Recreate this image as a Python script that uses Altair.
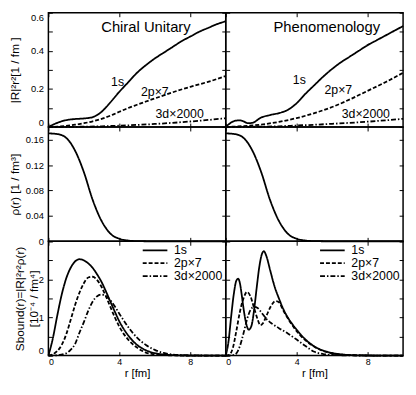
import altair as alt
import pandas as pd

FONT = "Liberation Sans"
W, H = 180, 116
XDOM = [0, 10]
SERIES = ["1s", "2p×7", "3d×2000"]
DASHES = [[1, 0], [4, 2], [5, 2, 1.5, 2]]

# ---------------- Row 1: |R|^2 r^2 [1/fm] ----------------
cu_wf_r = [0, 0.5, 1, 1.5, 2, 2.5, 3, 3.5, 4, 4.5, 5, 5.5, 6, 6.5, 7, 7.5, 8, 8.5, 9, 9.5, 10]
cu_wf_1s = [0, 0.022, 0.036, 0.042, 0.045, 0.052, 0.08, 0.13, 0.185, 0.235, 0.285, 0.325, 0.36,
            0.39, 0.42, 0.45, 0.475, 0.5, 0.52, 0.54, 0.555]
cu_wf_2p = [0, 0.002, 0.006, 0.012, 0.02, 0.03, 0.043, 0.06, 0.08, 0.1, 0.117, 0.134, 0.15,
            0.166, 0.182, 0.197, 0.211, 0.224, 0.237, 0.252, 0.268]
cu_wf_3d_r = [0, 1, 2, 3, 4, 5, 6, 7, 8, 9, 10]
cu_wf_3d = [0, 0.0005, 0.002, 0.004, 0.007, 0.011, 0.016, 0.022, 0.029, 0.037, 0.046]

ph_wf_1s_r = [0, 0.25, 0.5, 0.75, 1, 1.25, 1.5, 2, 2.5, 3, 3.5, 4, 4.5, 5, 5.5, 6, 6.5, 7, 7.5,
              8, 8.5, 9, 9.5, 10]
ph_wf_1s = [0, 0.02, 0.032, 0.035, 0.03, 0.02, 0.022, 0.05, 0.063, 0.073, 0.09, 0.125, 0.175,
            0.22, 0.265, 0.305, 0.34, 0.37, 0.4, 0.43, 0.455, 0.48, 0.505, 0.53]
ph_wf_2p_r = [0, 1, 2, 3, 4, 5, 6, 7, 8, 9, 10]
ph_wf_2p = [0, 0.005, 0.013, 0.027, 0.047, 0.073, 0.105, 0.145, 0.19, 0.235, 0.285]
ph_wf_3d_r = [0, 1, 2, 3, 4, 5, 6, 7, 8, 9, 10]
ph_wf_3d = [0, 0.0008, 0.002, 0.004, 0.008, 0.012, 0.017, 0.022, 0.028, 0.035, 0.043]

# ---------------- Row 2: rho(r) [1/fm^3] ----------------
rho_r = [0, 0.5, 1, 1.5, 2, 2.5, 3, 3.5, 4, 4.5, 5, 6, 10]
rho_v = [0.170, 0.169, 0.163, 0.143, 0.109, 0.065, 0.032, 0.012, 0.004, 0.0012, 0.0003, 0, 0]

# ---------------- Row 3: S_bound [1e-4 / fm^4] ----------------
cu_s_1s_r = [0, 0.25, 0.5, 0.75, 1, 1.25, 1.5, 1.75, 2, 2.25, 2.5, 2.75, 3, 3.25, 3.5, 3.75, 4,
             4.5, 5, 5.5, 6, 6.5, 7, 8, 10]
cu_s_1s = [0, 0.45, 1.05, 1.6, 2.02, 2.3, 2.47, 2.53, 2.5, 2.42, 2.3, 2.13, 1.93, 1.68, 1.41,
           1.15, 0.9, 0.53, 0.28, 0.14, 0.065, 0.03, 0.012, 0.002, 0]
cu_s_2p_r = [0, 0.5, 0.75, 1, 1.25, 1.5, 1.75, 2, 2.25, 2.5, 2.75, 3, 3.25, 3.5, 3.75, 4, 4.5,
             5, 5.5, 6, 6.5, 7, 8, 10]
cu_s_2p = [0, 0.12, 0.28, 0.55, 0.93, 1.32, 1.65, 1.9, 2.05, 2.07, 1.98, 1.8, 1.55, 1.27, 1.0,
           0.76, 0.42, 0.21, 0.08, 0.035, 0.015, 0.006, 0.001, 0]
cu_s_3d_r = [0, 0.5, 1, 1.25, 1.5, 1.75, 2, 2.25, 2.5, 2.75, 3, 3.25, 3.5, 3.75, 4, 4.5, 5,
             5.5, 6, 6.5, 7, 8, 10]
cu_s_3d = [0, 0.01, 0.06, 0.15, 0.3, 0.6, 0.88, 1.18, 1.42, 1.56, 1.6, 1.56, 1.45, 1.29, 1.1,
           0.75, 0.47, 0.28, 0.15, 0.07, 0.03, 0.005, 0]

ph_s_1s_r = [0, 0.15, 0.3, 0.45, 0.6, 0.7, 0.8, 0.9, 1.0, 1.15, 1.3, 1.45, 1.6, 1.75, 1.9,
             2.05, 2.15, 2.3, 2.5, 2.75, 3, 3.25, 3.5, 3.75, 4, 4.5, 5, 5.5, 6, 6.5, 7, 8, 10]
ph_s_1s = [0, 0.35, 1.0, 1.6, 1.97, 2.02, 1.9, 1.6, 1.25, 0.85, 0.68, 0.78, 1.2, 1.8, 2.35,
           2.68, 2.74, 2.6, 2.25, 1.82, 1.5, 1.22, 1.0, 0.83, 0.68, 0.42, 0.24, 0.13, 0.07,
           0.035, 0.015, 0.003, 0]
ph_s_2p_r = [0, 0.2, 0.4, 0.6, 0.8, 1.0, 1.2, 1.4, 1.6, 1.8, 1.95, 2.1, 2.3, 2.55, 2.8, 3.0,
             3.25, 3.5, 3.75, 4, 4.5, 5, 5.5, 6, 6.5, 7, 8, 10]
ph_s_2p = [0, 0.02, 0.2, 0.65, 1.15, 1.5, 1.67, 1.55, 1.25, 0.95, 0.8, 0.85, 1.05, 1.3, 1.43,
           1.4, 1.18, 0.98, 0.8, 0.64, 0.4, 0.23, 0.12, 0.06, 0.028, 0.012, 0.002, 0]
ph_s_3d_r = [0, 0.4, 0.6, 0.8, 1.0, 1.2, 1.4, 1.6, 1.8, 2.0, 2.3, 2.6, 3.0, 3.5, 4.0, 4.5, 5.0,
             5.5, 6, 7, 10]
ph_s_3d = [0, 0.01, 0.06, 0.25, 0.58, 0.95, 1.2, 1.28, 1.25, 1.14, 0.96, 0.84, 0.72, 0.58,
           0.42, 0.25, 0.1, 0.04, 0.02, 0.004, 0]

# ---------------- Annotations ----------------
cu_labels = ["Chiral Unitary", "1s", "2p×7", "3d×2000"]
cu_label_r = [5.5, 3.9, 6.0, 7.4]
cu_label_v = [0.525, 0.235, 0.185, 0.07]
ph_labels = ["Phenomenology", "1s", "2p×7", "3d×2000"]
ph_label_r = [5.7, 4.15, 6.35, 7.9]
ph_label_v = [0.525, 0.245, 0.195, 0.07]
label_sizes = [15, 12.5, 12.5, 12.5]


def series_df(rs_list, vs_list):
    rows = []
    for name, rs, vs in zip(SERIES, rs_list, vs_list):
        for r, v in zip(rs, vs):
            rows.append({"r": r, "v": v, "s": name})
    return pd.DataFrame(rows)


def tick_axis(orient, values, **kw):
    base = dict(orient=orient, values=values, offset=-4, tickSize=4, domain=False,
                grid=False, tickColor="black", tickWidth=1)
    base.update(kw)
    return alt.Axis(**base)


def panel(df, ydom, yvals, left, bottom, ylabel_expr=None, ytitle=None, flush=False,
          legend=False, title_x=-39, annot=None):
    xs = alt.Scale(domain=XDOM, nice=False)
    ys = alt.Scale(domain=ydom, nice=False, zero=False)
    if left:
        yax = tick_axis("left", yvals, labels=True, labelExpr=ylabel_expr, labelPadding=5,
                        labelFlush=flush, title=ytitle, titleX=title_x, titleBaseline="middle",
                        titleAngle=270, titleLineHeight=14, titleFontSize=12)
    else:
        yax = tick_axis("left", yvals, labels=False, title=None)
    if bottom:
        xax = tick_axis("bottom", [0, 4, 8], labels=True, labelFontSize=9, labelPadding=2,
                        format="d", title="r [fm]", titleFontSize=11.5, titlePadding=1)
    else:
        xax = tick_axis("bottom", [0, 4, 8], labels=False, title=None)
    leg = None
    if legend:
        leg = alt.Legend(orient="top-right", title=None, symbolType="M-2.5,0H2.5",
                         symbolStrokeWidth=1.8, symbolSize=100, symbolStrokeColor="black",
                         symbolFillColor="transparent",
                         labelFontSize=12.5, labelFont=FONT, labelColor="black", rowPadding=0,
                         offset=3, padding=0, labelOffset=13)
    lines = alt.Chart(df).mark_line(color="black", strokeWidth=1.8, interpolate="monotone").encode(
        x=alt.X("r:Q", scale=xs, axis=xax),
        y=alt.Y("v:Q", scale=ys, axis=yax),
        strokeDash=alt.StrokeDash("s:N", scale=alt.Scale(domain=SERIES, range=DASHES),
                                  legend=leg),
    )
    mirror = alt.Chart(df).mark_point(opacity=0).encode(
        x=alt.X("r:Q", scale=xs, axis=tick_axis("top", [0, 4, 8], labels=False, title=None)),
        y=alt.Y("v:Q", scale=ys, axis=tick_axis("right", yvals, labels=False, title=None)),
    )
    layers = [lines, mirror]
    if annot is not None:
        txt = alt.Chart(annot).mark_text(font=FONT, color="black").encode(
            x=alt.X("r:Q", scale=xs, axis=None),
            y=alt.Y("v:Q", scale=ys, axis=None),
            text="t:N",
            size=alt.Size("fs:Q", scale=None, legend=None),
        )
        layers.append(txt)
    return alt.layer(*layers).resolve_axis(x="independent", y="independent").properties(
        width=W, height=H)


cu_annot = pd.DataFrame({"t": cu_labels, "r": cu_label_r, "v": cu_label_v, "fs": label_sizes})
ph_annot = pd.DataFrame({"t": ph_labels, "r": ph_label_r, "v": ph_label_v, "fs": label_sizes})

wf_vals = [0, 0.1, 0.2, 0.3, 0.4, 0.5, 0.6]
wf_expr = "round(datum.value*10)%2==0 ? (datum.value==0 ? '0' : format(datum.value,'.1f')) : ''"
rho_vals = [0, 0.04, 0.08, 0.12, 0.16]
rho_expr = "datum.value==0 ? '0' : format(datum.value,'.2f')"
s_vals = [0, 0.5, 1, 1.5, 2, 2.5, 3]
s_expr = "(datum.value%1==0 && datum.value<3) ? format(datum.value,'d') : ''"

p1 = panel(series_df([cu_wf_r, cu_wf_r, cu_wf_3d_r], [cu_wf_1s, cu_wf_2p, cu_wf_3d]),
           [0, 0.6], wf_vals, True, False, wf_expr, "|R|²r²[1 / fm ]", flush=True,
           annot=cu_annot, title_x=-38)
p2 = panel(series_df([ph_wf_1s_r, ph_wf_2p_r, ph_wf_3d_r], [ph_wf_1s, ph_wf_2p, ph_wf_3d]),
           [0, 0.6], wf_vals, False, False, annot=ph_annot)
rho_df = pd.DataFrame({"r": rho_r, "v": rho_v, "s": "1s"})
p3 = panel(rho_df, [0, 0.18], rho_vals, True, False, rho_expr, "ρ(r) [1 / fm³]", title_x=-38)
p4 = panel(rho_df, [0, 0.18], rho_vals, False, False)
p5 = panel(series_df([cu_s_1s_r, cu_s_2p_r, cu_s_3d_r], [cu_s_1s, cu_s_2p, cu_s_3d]),
           [0, 3], s_vals, True, True, s_expr,
           ["Sbound(r)=|R|²r²ρ(r)", "[10⁻⁴ / fm⁴]"], flush=True, legend=True, title_x=-33)
p6 = panel(series_df([ph_s_1s_r, ph_s_2p_r, ph_s_3d_r], [ph_s_1s, ph_s_2p, ph_s_3d]),
           [0, 3], s_vals, False, True, legend=True)

chart = alt.concat(p1, p2, p3, p4, p5, p6, columns=2, spacing=0, bounds="flush").resolve_scale(
    strokeDash="independent"
).properties(padding=0).configure_view(
    stroke="black", strokeWidth=1.5
).configure_axis(
    labelFont=FONT, titleFont=FONT, labelFontSize=9.5, titleFontSize=12, labelColor="black",
    titleColor="black", titleFontWeight="normal"
)

chart.save("out.html", embed_options={"renderer": "svg", "actions": False})
